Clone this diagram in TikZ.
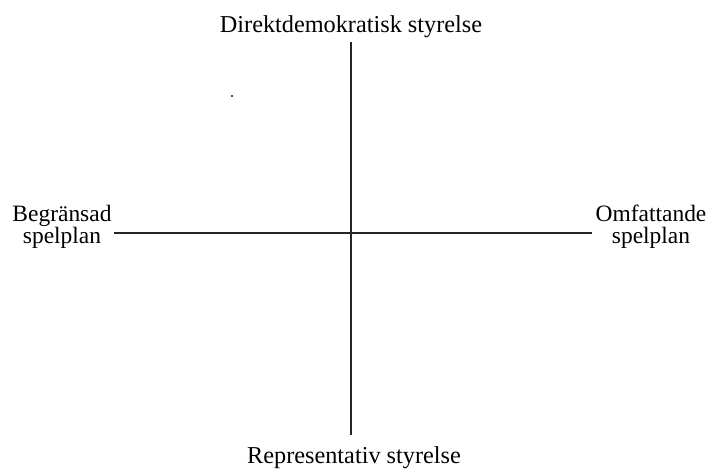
\documentclass[tikz,border=0pt]{standalone}
\usepackage{fontspec}
\setmainfont{Liberation Serif}
\begin{document}
\begin{tikzpicture}[x=0.75pt,y=-0.75pt,
  lbl/.style={inner sep=0pt,anchor=base,font=\fontsize{17.6}{16.5}\selectfont,align=center},
  biglbl/.style={lbl,font=\fontsize{18.2}{17}\selectfont},
  axis/.style={line width=1pt,black!85}]
\useasboundingbox (0,0) rectangle (711,470);
\coordinate (top) at (351,42);
\coordinate (bot) at (351,435);
\coordinate (lft) at (114,233);
\coordinate (rgt) at (592,233);
\draw[axis] (top) -- (bot);
\draw[axis] (lft) -- (rgt);
\node[biglbl] (t) at (351,33) {Direktdemokratisk styrelse};
\node[biglbl] (b) at (354,464) {Representativ styrelse};
\node[lbl] (l1) at (62,222) {Begränsad};
\node[lbl] (l2) at (62,244) {spelplan};
\node[lbl] (r1) at (651,222) {Omfattande};
\node[lbl] (r2) at (651,244) {spelplan};
\fill[black!70] (230.5,95.5) rectangle (232.5,97.5);
\end{tikzpicture}
\end{document}
